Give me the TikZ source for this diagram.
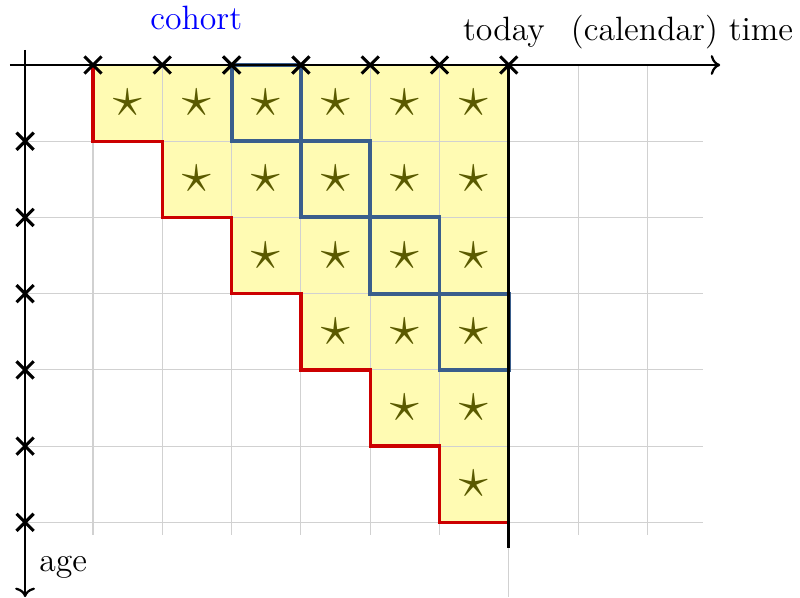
\documentclass[tikz,border=0pt]{standalone}
\usetikzlibrary{arrows.meta, shapes.misc}
\definecolor{diagblue}{RGB}{58,94,140}
\definecolor{starolive}{RGB}{90,90,0}

\begin{document}
\begin{tikzpicture}[x=0.866cm, y=-0.9525cm,
  cell/.style={fill=yellow!30, draw=none},
  gridline/.style={draw=black!18, line width=0.4pt},
  cohortline/.style={draw=red!80!black, line width=1.2pt},
  diagline/.style={draw=diagblue, line width=1.4pt},
  axis/.style={thick, ->},
  tick/.style={cross out, draw, line width=1.1pt, minimum size=5pt, inner sep=0pt},
  mark star/.style={text=starolive, font=\huge},
  lbl/.style={font=\large, anchor=base}]

\useasboundingbox (-1.342,-0.853) rectangle (10.202,6.982);

% observed cells
\foreach \r in {0,...,5}
  \foreach \c in {\r,...,5} {
    \fill[cell] (\c,\r) rectangle ++(1,1);
    \node[mark star] (s\r\c) at (\c+0.5,\r+0.5) {$\star$};
  }

% grid
\foreach \c in {0,...,8}
  \draw[gridline] (\c,0) -- (\c,6.17);
\draw[gridline] (6,6) -- (6,6.98);
\foreach \r in {1,...,6}
  \draw[gridline] (-0.98,\r) -- (8.8,\r);

% first entry per cohort
\draw[cohortline] (0,0) -- (0,1) -- (1,1) -- (1,2) -- (2,2) -- (2,3) -- (3,3)
  -- (3,4) -- (4,4) -- (4,5) -- (5,5) -- (5,6) -- (6,6);

% one cohort
\foreach \k in {2,...,5}
  \draw[diagline] (\k,{\k-2}) rectangle ++(1,1);

\draw[line width=1.2pt] (6,0) -- (6,6.34);

% axes
\draw[axis] (-1.2,0) -- (9.05,0);
\draw[axis] (-0.98,-0.2) -- (-0.98,6.98);
\foreach \c in {0,...,6}
  \node[tick] (t\c) at (\c,0) {};
\foreach \r in {1,...,6}
  \node[tick] (a\r) at (-0.98,\r) {};

\node[lbl, text=blue] (cohort) at (1.49,-0.46) {cohort};
\node[lbl] (today) at (5.93,-0.328) {today};
\node[lbl] (time) at (8.5,-0.328) {(calendar) time};
\node[lbl] (age) at (-0.43,6.64) {age};

\end{tikzpicture}
\end{document}
